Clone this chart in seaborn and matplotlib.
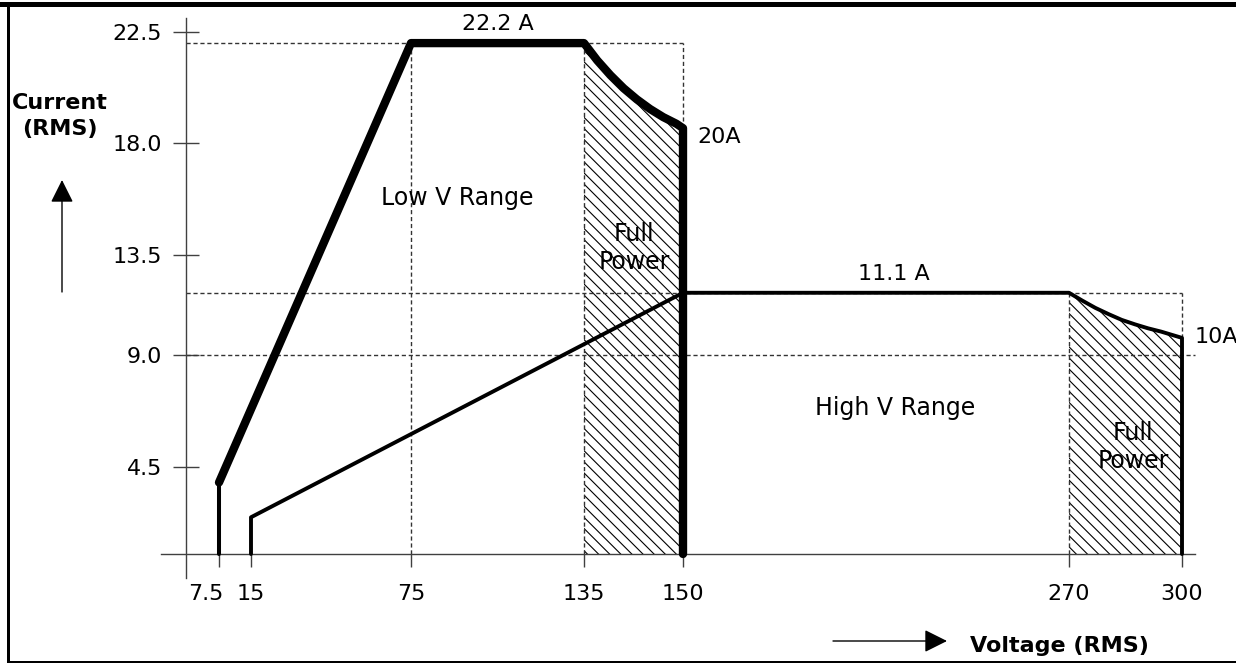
import numpy as np
import matplotlib.pyplot as plt
import matplotlib.transforms as mtransforms
from matplotlib.patches import Rectangle
import seaborn as sns

# Operating envelope (V RMS vs A RMS)
low_volts = [7.5, 7.5, 75, 135, 137, 139, 141, 143, 145, 147, 149, 150, 150]
low_amps = [0, 3.7, 22.05, 22.05, 21.35, 20.75, 20.22, 19.77, 19.38, 19.05,
            18.78, 18.6, 0]
high_volts = [15, 15, 150, 270, 273.5, 277, 280.5, 284, 287.5, 291, 294.5,
              300, 300]
high_amps = [0, 1.9, 11.8, 11.8, 11.45, 11.12, 10.84, 10.58, 10.38, 10.2,
             10.05, 9.77, 0]

volt_ticks = [7.5, 15, 75, 135, 150, 270, 300]
volt_labels = ["7.5", "15", "75", "135", "150", "270", "300"]
amp_ticks = [4.5, 9.0, 13.5, 18.0, 22.5]
amp_labels = ["4.5", "9.0", "13.5", "18.0", "22.5"]

# The drawing is a schematic: axis spacing is not linear, so use a
# piecewise scale anchored on where the ticks sit in the picture
W, H = 1236, 664
x_anchor_volts = [0, 7.5, 15, 75, 135, 150, 270, 300]
x_anchor_px = [186, 219, 251, 411, 584, 683, 1069, 1182]
y_anchor_amps = [0, 4.5, 9, 13.5, 18, 22.5]
y_anchor_px = [H - p for p in [554, 467, 355, 255, 143, 32]]


def piecewise(src, dst):
    src = np.asarray(src, float)
    dst = np.asarray(dst, float)
    s0 = (dst[1] - dst[0]) / (src[1] - src[0])
    s1 = (dst[-1] - dst[-2]) / (src[-1] - src[-2])
    big = 1e4
    src_e = np.r_[src[0] - big, src, src[-1] + big]
    dst_e = np.r_[dst[0] - big * s0, dst, dst[-1] + big * s1]

    def fwd(v):
        return np.interp(v, src_e, dst_e)

    def inv(p):
        return np.interp(p, dst_e, src_e)

    return fwd, inv


fx, ix = piecewise(x_anchor_volts, x_anchor_px)
fy, iy = piecewise(y_anchor_amps, y_anchor_px)

sns.set_theme(style="white")
plt.rcParams["font.family"] = "DejaVu Sans"
plt.rcParams["text.color"] = "black"
plt.rcParams["hatch.linewidth"] = 0.8

fig = plt.figure(figsize=(W / 100, H / 100), dpi=100)
ax = fig.add_axes([0, 0, 1, 1])
ax.set_xscale("function", functions=(fx, ix))
ax.set_yscale("function", functions=(fy, iy))

# full power sections of each range (curve part, hatched down to 0 A)
low_fp = slice(3, 12)
high_fp = slice(3, 12)
ax.fill_between(low_volts[low_fp], low_amps[low_fp], 0, facecolor="none",
                edgecolor="black", hatch="\\\\\\", linewidth=0, zorder=1)
ax.fill_between(high_volts[high_fp], high_amps[high_fp], 0, facecolor="none",
                edgecolor="black", hatch="\\\\\\", linewidth=0, zorder=1)

# dotted guide lines
x_end = 303.45
guide = dict(colors="0.2", linestyles=(0, (3, 2)), linewidth=1, zorder=1.5)
ax.hlines(low_amps[2], 0, 150, **guide)
ax.vlines(75, 0, low_amps[2], **guide)
ax.vlines(135, 0, low_amps[2], **guide)
ax.vlines(150, low_amps[11], low_amps[2], **guide)
ax.hlines(high_amps[2], 0, 300, **guide)
ax.hlines(9.0, 0, x_end, **guide)
ax.vlines(270, 0, high_amps[3], **guide)
ax.vlines(300, high_amps[11], high_amps[3], **guide)

# envelope traces
sns.lineplot(x=low_volts[:2], y=low_amps[:2], sort=False, estimator=None,
             color="black", linewidth=2.9, ax=ax, zorder=3)
sns.lineplot(x=low_volts[1:], y=low_amps[1:], sort=False, estimator=None,
             color="black", linewidth=6, ax=ax, zorder=3)
sns.lineplot(x=high_volts, y=high_amps, sort=False, estimator=None,
             color="black", linewidth=2.8, ax=ax, zorder=3)

ax.set_xlim(ix(0), ix(W))
ax.set_ylim(iy(0), iy(H))
ax.set_xlabel("")
ax.set_ylabel("")
ax.set_facecolor("white")

for s in ["top", "right"]:
    ax.spines[s].set_visible(False)
ax.spines["left"].set_position(("data", 0))
ax.spines["left"].set_bounds(-1.24, 23.07)
ax.spines["bottom"].set_position(("data", 0))
ax.spines["bottom"].set_bounds(-5.7, x_end)
for s in ["left", "bottom"]:
    ax.spines[s].set_color("0.25")
    ax.spines[s].set_linewidth(1)

ax.set_xticks(volt_ticks, volt_labels)
ax.set_yticks(amp_ticks, amp_labels)
ax.tick_params(axis="x", bottom=True, direction="out", length=9.4, width=1,
               color="0.25", labelsize=16, pad=12, labelcolor="black")
ax.tick_params(axis="y", left=True, direction="inout", length=18.7, width=1,
               color="0.25", labelsize=16, pad=8, labelcolor="black")
ax.get_xticklabels()
lab = ax.xaxis.get_major_ticks()[0].label1
lab.set_transform(lab.get_transform() +
                  mtransforms.ScaledTranslation(-0.13, 0, fig.dpi_scale_trans))

# annotations
ax.text(105, 22.58, "22.2 A", ha="center", va="baseline", fontsize=16)
ax.text(154.4, 18.0, "20A", ha="left", va="baseline", fontsize=16)
ax.text(215.6, 12.37, "11.1 A", ha="center", va="baseline", fontsize=16)
ax.text(303.4, 9.54, "10A", ha="left", va="baseline", fontsize=16)
ax.text(91, 15.5, "Low V Range", ha="center", va="baseline", fontsize=17)
ax.text(216, 6.59, "High V Range", ha="center", va="baseline", fontsize=17)
ax.text(142.6, 13.78, "Full\nPower", ha="center", va="center", fontsize=17,
        zorder=4)
ax.text(287, 5.3, "Full\nPower", ha="center", va="center", fontsize=17,
        zorder=4)

fig.text(60 / W, 1 - 116 / H, "Current\n(RMS)", ha="center", va="center",
         fontsize=16, fontweight="bold", linespacing=1.35)
fig.text(970 / W, 1 - 652 / H, "Voltage (RMS)", ha="left", va="baseline",
         fontsize=16, fontweight="bold")

arrow = dict(arrowstyle="-|>,head_length=0.7,head_width=0.35", mutation_scale=20,
             lw=1, color="black", shrinkA=0, shrinkB=0)
ax.annotate("", xy=(62, H - 180), xytext=(62, H - 292),
            xycoords="figure pixels", textcoords="figure pixels", arrowprops=arrow)
ax.annotate("", xy=(947, H - 641), xytext=(833, H - 641),
            xycoords="figure pixels", textcoords="figure pixels", arrowprops=arrow)

# page frame
for x0, y0, w, h in [(0, 2, W, 5), (7, 5, 2.5, 658), (7, 660.5, W, 2.5)]:
    fig.add_artist(Rectangle((x0 / W, 1 - (y0 + h) / H), w / W, h / H,
                             transform=fig.transFigure, color="black", lw=0))

fig.savefig("out.png", dpi=100)
